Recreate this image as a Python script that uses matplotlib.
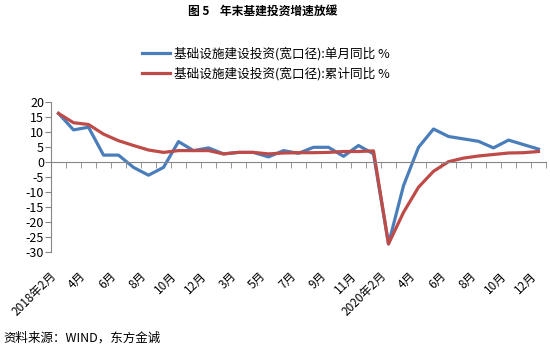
import numpy as np
import matplotlib
matplotlib.use("Agg")
import matplotlib.pyplot as plt
from matplotlib.ticker import FixedLocator

plt.rcParams['font.family'] = ['Noto Sans CJK SC', 'DejaVu Sans']
plt.rcParams['axes.unicode_minus'] = False

# 2018-02 .. 2020-12, 2019/2020 Jan-Feb merged
months = ['2018年2月', '3月', '4月', '5月', '6月', '7月', '8月', '9月', '10月', '11月', '12月',
          '2019年2月', '3月', '4月', '5月', '6月', '7月', '8月', '9月', '10月', '11月', '12月',
          '2020年2月', '3月', '4月', '5月', '6月', '7月', '8月', '9月', '10月', '11月', '12月']
monthly = [16.3, 10.8, 11.7, 2.4, 2.4, -1.7, -4.3, -1.7, 6.9, 3.9, 4.8,
           2.8, 3.3, 3.3, 1.8, 3.9, 3.0, 5.0, 5.0, 2.0, 5.6, 2.8,
           -27.2, -7.8, 5.0, 11.1, 8.6, 7.8, 7.0, 4.8, 7.4, 5.9, 4.4]
cumulative = [16.3, 13.2, 12.6, 9.4, 7.2, 5.6, 4.1, 3.3, 3.9, 3.9, 3.9,
              2.8, 3.3, 3.3, 2.8, 3.1, 3.2, 3.2, 3.3, 3.6, 3.6, 3.8,
              -27.2, -16.7, -8.3, -3.0, 0.2, 1.4, 2.1, 2.6, 3.1, 3.2, 3.6]
label_idx = [0, 2, 4, 6, 8, 10, 12, 14, 16, 18, 20, 22, 24, 26, 28, 30, 32]

blue = '#4A7EBB'
red = '#BE4B48'
axis_gray = '#868686'

fig = plt.figure(figsize=(5.5, 3.51), dpi=100)
ax = fig.add_axes([51 / 550, 1 - 252.3 / 351, 495 / 550, 150 / 351])

x = np.arange(len(months))
l1, = ax.plot(x, monthly, color=blue, lw=2.3, solid_joinstyle='round')
l2, = ax.plot(x, cumulative, color=red, lw=2.3, solid_joinstyle='round')

ax.set_xlim(-0.5, len(months) - 0.5)
ax.set_ylim(-30, 20)
ax.set_yticks(np.arange(-30, 21, 5))

for s in ['top', 'right']:
    ax.spines[s].set_visible(False)
ax.spines['bottom'].set_position(('data', 0))
ax.spines['bottom'].set_color(axis_gray)
ax.spines['left'].set_color(axis_gray)

ax.xaxis.set_major_locator(FixedLocator(label_idx))
ax.set_xticklabels([months[i] for i in label_idx], rotation=45, ha='right', fontsize=8.5)
ax.xaxis.set_minor_locator(FixedLocator(np.arange(-0.5, len(months), 1)))
ax.tick_params(axis='x', which='major', length=0, pad=77)
ax.tick_params(axis='x', which='minor', length=4, color=axis_gray, direction='out')
ax.tick_params(axis='y', length=4, color=axis_gray, labelsize=9, pad=1)

fig.text(0.478, 1 - 11 / 351, '图 5    年末基建投资增速放缓', ha='center', va='center',
         fontsize=8.5, fontweight='bold')
fig.legend([l1, l2], ['基础设施建设投资(宽口径):单月同比 %', '基础设施建设投资(宽口径):累计同比 %'],
           loc='upper left', bbox_to_anchor=(142 / 550, 1 - 47 / 351), frameon=False,
           fontsize=9.1, handlelength=2.2, handletextpad=0.3, labelspacing=0.5,
           borderpad=0, borderaxespad=0)
fig.text(3 / 550, 1 - 338 / 351, '资料来源：WIND，东方金诚', ha='left', va='center', fontsize=9)

fig.savefig('out.png', dpi=100)
